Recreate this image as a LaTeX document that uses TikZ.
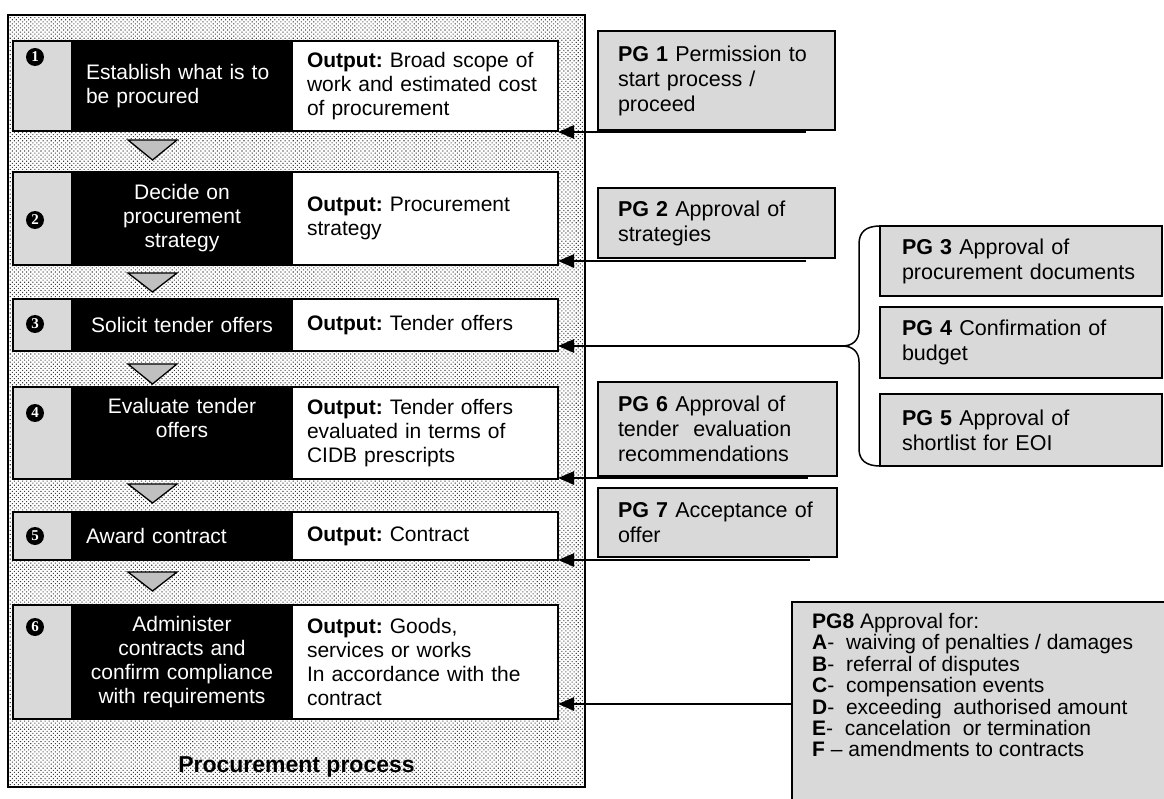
\documentclass[tikz,border=0pt]{standalone}
\usepackage{fontspec}
\setmainfont{Liberation Sans}
\newfontfamily\numfont{Liberation Serif}
\usetikzlibrary{arrows.meta,patterns.meta,calc}
\definecolor{cellgray}{HTML}{D9D9D9}
\definecolor{trigray}{HTML}{C0C0C0}
\frenchspacing
\begin{document}
\begin{tikzpicture}[x=1pt,y=-1pt,
  base/.style={anchor=north west,inner ysep=0pt,outer sep=0pt},
  numcell/.style={base,fill=cellgray,minimum width=58pt},
  blkcell/.style={base,fill=black,text=white,text width=192pt,inner xsep=15pt,
    font=\fontsize{21}{24}\selectfont},
  whtcell/.style={base,fill=white,text width=237pt,inner xsep=14pt,align=left,
    font=\fontsize{21}{24}\selectfont},
  rowbox/.style={draw=black,line width=1.5pt},
  numdot/.style={circle,fill=black,text=white,inner sep=0pt,minimum size=18pt,
    font=\numfont\bfseries\fontsize{15}{15}\selectfont},
  tri/.style={draw=black,fill=trigray,line width=1.3pt,line join=miter},
  pgbox/.style={base,draw=black,line width=1.8pt,fill=cellgray,inner xsep=20pt,
    align=left,font=\fontsize{21.5}{25}\selectfont},
  arr/.style={line width=2.6pt,-{Triangle[length=16pt,width=13pt]}},
  bracepath/.style={line width=1.5pt},
]
\useasboundingbox (0,0) rectangle (1164,799);
\clip (0,0) rectangle (1164,799);
\fill[white] (0,0) rectangle (1164,799);

% frame with dotted background
\path[fill=white] (8,15) rectangle (585,787);
\path[pattern={Dots[distance=2.9pt,angle=45,radius=0.75pt]},pattern color=black!75] (8,15) rectangle (585,787);
\draw[line width=2pt] (8,15) rectangle (585,787);
\node[font=\bfseries\fontsize{23}{23}\selectfont] (plabel) at (296.5,767) {Procurement process};

% row 1
\node[numcell,minimum height=90pt] (g1) at (13,41) {};
\node[blkcell,minimum height=90pt,align=left] (k1) at (71,41) {Establish what is to\\be procured};
\node[whtcell,minimum height=90pt] (w1) at (293,41) {\textbf{Output:} Broad scope of\\work and estimated cost\\of procurement};
\draw[rowbox] (g1.north west) rectangle (w1.south east);
\node[numdot] (n1) at (35,57) {1};
% row 2
\node[numcell,minimum height=93pt] (g2) at (13,172) {};
\node[blkcell,minimum height=93pt,align=center] (k2) at (71,172) {Decide on\\procurement\\strategy};
\node[whtcell,minimum height=93pt] (w2) at (293,172) {\textbf{Output:} Procurement\\strategy};
\draw[rowbox] (g2.north west) rectangle (w2.south east);
\node[numdot] (n2) at (35,220) {2};
% row 3
\node[numcell,minimum height=52pt] (g3) at (13,299) {};
\node[blkcell,minimum height=52pt,align=center] (k3) at (71,299) {Solicit tender offers};
\node[whtcell,minimum height=52pt] (w3) at (293,299) {\textbf{Output:} Tender offers};
\draw[rowbox] (g3.north west) rectangle (w3.south east);
\node[numdot] (n3) at (35,324) {3};
% row 4
\node[numcell,minimum height=92pt] (g4) at (13,387) {};
\node[blkcell,minimum height=92pt,align=center] (k4) at (71,387) {Evaluate tender\\offers\\\strut};
\node[whtcell,minimum height=92pt] (w4) at (293,387) {\textbf{Output:} Tender offers\\evaluated in terms of\\CIDB prescripts};
\draw[rowbox] (g4.north west) rectangle (w4.south east);
\node[numdot] (n4) at (35,413) {4};
% row 5
\node[numcell,minimum height=48pt] (g5) at (13,512) {};
\node[blkcell,minimum height=48pt,align=left] (k5) at (71,512) {Award contract};
\node[whtcell,minimum height=48pt] (w5) at (293,512) {\textbf{Output:} Contract};
\draw[rowbox] (g5.north west) rectangle (w5.south east);
\node[numdot] (n5) at (35,536) {5};
% row 6
\node[numcell,minimum height=114pt] (g6) at (13,605) {};
\node[blkcell,minimum height=114pt,align=center] (k6) at (71,605) {Administer\\contracts and\\confirm compliance\\with requirements};
\node[whtcell,minimum height=114pt] (w6) at (293,605) {\textbf{Output:} Goods,\\services or works\\In accordance with the\\contract};
\draw[rowbox] (g6.north west) rectangle (w6.south east);
\node[numdot] (n6) at (35,627) {6};

% triangles between steps
\draw[tri] (128,140) -- (177,140) -- (152.5,160) -- cycle;
\draw[tri] (128,273) -- (177,273) -- (152.5,292) -- cycle;
\draw[tri] (128,364) -- (177,364) -- (152.5,384) -- cycle;
\draw[tri] (128,484) -- (177,484) -- (152.5,503) -- cycle;
\draw[tri] (128,572) -- (177,572) -- (152.5,591) -- cycle;

% PG boxes
\node[pgbox,text width=197pt,minimum height=99pt] (pg1) at (598,31) {\textbf{PG 1} Permission to\\start process /\\proceed};
\node[pgbox,text width=197pt,minimum height=70pt] (pg2) at (598,188) {\textbf{PG 2} Approval of\\strategies};
\node[pgbox,text width=238pt,inner xsep=22pt,minimum height=70pt] (pg3) at (880,226) {\textbf{PG 3} Approval of\\procurement documents};
\node[pgbox,text width=238pt,inner xsep=22pt,minimum height=71pt] (pg4) at (880,307) {\textbf{PG 4} Confirmation of\\budget};
\node[pgbox,text width=238pt,inner xsep=22pt,minimum height=72pt] (pg5) at (880,394) {\textbf{PG 5} Approval of\\shortlist for EOI};
\node[pgbox,text width=199pt,minimum height=94pt] (pg6) at (598,382) {\textbf{PG 6} Approval of\\tender~ evaluation\\recommendations};
\node[pgbox,text width=199pt,minimum height=69pt] (pg7) at (598,488) {\textbf{PG 7} Acceptance of\\offer};
\node[base,draw=black,line width=1.8pt,fill=cellgray,minimum width=400pt,minimum height=220pt] (pg8) at (792,602) {};
\node[anchor=north west,inner sep=0pt,align=left,font=\fontsize{21}{21.4}\selectfont] (pg8t) at (812,613)
  {\textbf{PG8} Approval for:\\
   \textbf{A}-~ waiving of penalties / damages\\
   \textbf{B}-~ referral of disputes\\
   \textbf{C}-~ compensation events\\
   \textbf{D}-~ exceeding~ authorised amount\\
   \textbf{E}-~ cancelation~ or termination\\
   \textbf{F} -- amendments to contracts};

% brace grouping PG3-PG5
\coordinate (tip) at (842,346);
\draw[bracepath] (pg3.north west) .. controls (866,226) and (859,232) .. (859,244)
  -- (859,330) .. controls (859,340) and (853,346) .. (tip)
  .. controls (853,346) and (859,352) .. (859,362)
  -- (859,449) .. controls (859,460) and (866,466) .. (pg5.south west);

% arrows
\coordinate (s1) at (806,132);
\coordinate (s2) at (806,261);
\coordinate (s4) at (808,478);
\coordinate (s5) at (810,560);
\coordinate (s6) at (792,704);
\draw[arr] (s1) -- (s1 -| w1.east);
\draw[arr] (s2) -- (s2 -| w2.east);
\draw[arr] (tip) -- (tip -| w3.east);
\draw[arr] (s4) -- (s4 -| w4.east);
\draw[arr] (s5) -- (s5 -| w5.east);
\draw[arr] (s6) -- (s6 -| w6.east);
\end{tikzpicture}
\end{document}
